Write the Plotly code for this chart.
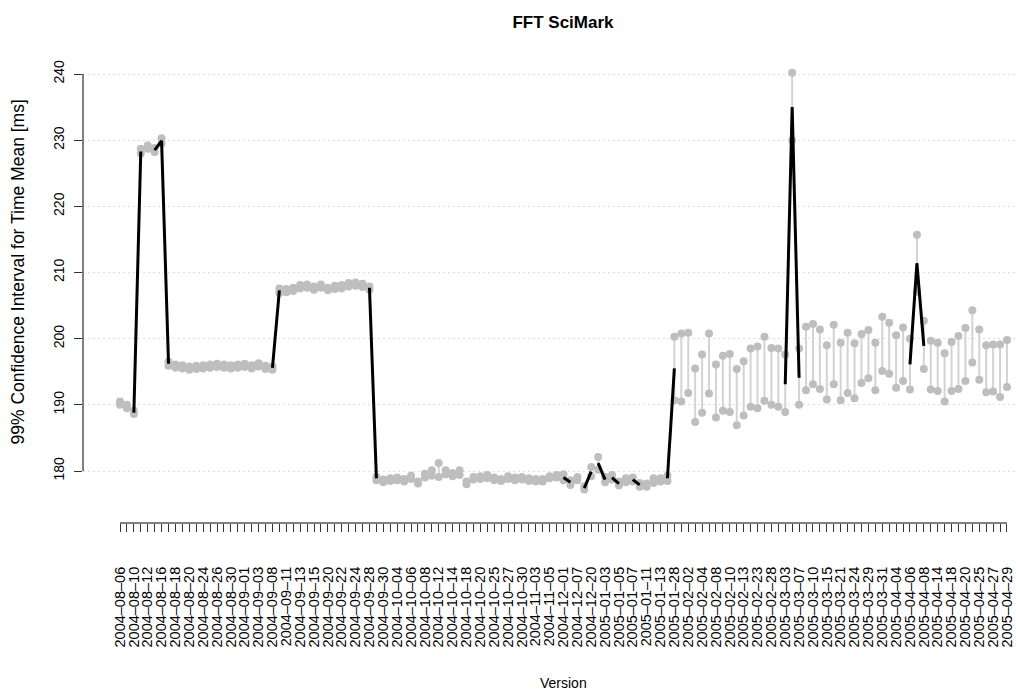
import plotly.graph_objects as go

# Version labels shown under every second tick (one tick per benchmarked version)
shown_labels = [
    "2004-08-06", "2004-08-10", "2004-08-12", "2004-08-16", "2004-08-18", "2004-08-20",
    "2004-08-24", "2004-08-26", "2004-08-30", "2004-09-01", "2004-09-03", "2004-09-08",
    "2004-09-11", "2004-09-13", "2004-09-15", "2004-09-20", "2004-09-22", "2004-09-24",
    "2004-09-28", "2004-09-30", "2004-10-04", "2004-10-06", "2004-10-08", "2004-10-12",
    "2004-10-14", "2004-10-18", "2004-10-20", "2004-10-25", "2004-10-27", "2004-10-30",
    "2004-11-03", "2004-11-05", "2004-12-01", "2004-12-07", "2004-12-20", "2005-01-03",
    "2005-01-05", "2005-01-07", "2005-01-11", "2005-01-13", "2005-01-28", "2005-02-02",
    "2005-02-04", "2005-02-08", "2005-02-10", "2005-02-13", "2005-02-23", "2005-02-28",
    "2005-03-03", "2005-03-07", "2005-03-10", "2005-03-15", "2005-03-21", "2005-03-24",
    "2005-03-29", "2005-03-31", "2005-04-04", "2005-04-06", "2005-04-08", "2005-04-14",
    "2005-04-18", "2005-04-20", "2005-04-25", "2005-04-27", "2005-04-29",
]
n_versions = 129

# 99% confidence interval bounds and mean of the run time per version [ms]
ci_lower = [
    190.0, 189.5, 188.6, 228.0, 228.7, 228.2, 229.5, 195.9, 195.6, 195.5,
    195.3, 195.4, 195.5, 195.6, 195.7, 195.6, 195.5, 195.6, 195.7, 195.5,
    195.8, 195.4, 195.3, 206.9, 207.0, 207.2, 207.6, 207.7, 207.4, 207.7,
    207.3, 207.5, 207.6, 207.9, 208.0, 207.8, 207.4, 178.6, 178.3, 178.5,
    178.6, 178.4, 178.8, 178.1, 179.0, 179.3, 179.1, 179.5, 179.2, 179.4,
    178.0, 178.7, 178.8, 178.9, 178.6, 178.5, 178.8, 178.6, 178.7, 178.5,
    178.4, 178.4, 178.9, 179.0, 178.6, 177.9, 178.6, 177.2, 179.2, 180.2,
    178.3, 178.7, 177.8, 178.3, 178.4, 177.6, 177.6, 178.2, 178.4, 178.5,
    190.7, 190.5, 191.8, 187.4, 188.8, 191.7, 188.1, 189.1, 188.9, 186.9,
    188.4, 189.7, 189.5, 190.6, 190.0, 189.7, 188.9, 230.0, 190.0, 192.2,
    193.1, 192.4, 190.8, 193.1, 190.7, 191.8, 191.0, 193.3, 194.0, 192.2,
    195.1, 194.7, 192.6, 193.6, 192.3, 207.1, 195.4, 192.3, 192.1, 190.5,
    192.1, 192.4, 193.6, 196.4, 193.8, 191.9, 192.0, 191.2, 192.7,
]
ci_upper = [
    190.5, 190.0, 189.1, 228.7, 229.2, 228.8, 230.3, 196.5, 196.1, 196.0,
    195.8, 195.9, 196.0, 196.1, 196.2, 196.1, 196.0, 196.1, 196.2, 196.0,
    196.3, 195.9, 195.8, 207.6, 207.5, 207.7, 208.1, 208.2, 207.9, 208.2,
    207.7, 208.0, 208.1, 208.4, 208.5, 208.3, 207.9, 179.1, 178.7, 178.9,
    179.0, 178.8, 179.3, 178.4, 179.6, 180.1, 181.2, 180.1, 179.7, 180.1,
    178.4, 179.1, 179.2, 179.4, 179.0, 178.8, 179.2, 179.0, 179.1, 178.9,
    178.8, 178.8, 179.2, 179.4, 179.5, 178.6, 179.1, 177.7, 180.6, 182.1,
    179.1, 179.4, 178.4, 178.9, 179.0, 178.2, 178.1, 178.9, 178.9, 179.3,
    200.3, 200.8, 200.9, 195.5, 197.6, 200.8, 196.1, 197.4, 197.7, 195.4,
    196.6, 198.5, 198.8, 200.3, 198.6, 198.5, 197.6, 240.2, 198.5, 201.8,
    202.2, 201.4, 199.0, 202.1, 199.4, 200.9, 199.3, 200.7, 201.3, 199.4,
    203.3, 202.4, 200.5, 201.7, 200.0, 215.7, 202.7, 199.7, 199.4, 197.8,
    199.5, 200.4, 201.6, 204.3, 201.4, 199.0, 199.1, 199.1, 199.8,
]
ci_mean = [
    190.2, 189.8, 188.8, 228.3, 228.9, 228.5, 229.9, 196.2, 195.9, 195.8,
    195.5, 195.7, 195.8, 195.9, 196.0, 195.9, 195.8, 195.9, 196.0, 195.8,
    196.1, 195.7, 195.6, 207.3, 207.3, 207.5, 207.9, 207.9, 207.7, 207.9,
    207.5, 207.8, 207.9, 208.2, 208.3, 208.1, 207.7, 178.9, 178.5, 178.7,
    178.8, 178.6, 179.0, 178.3, 179.3, 179.7, 180.2, 179.8, 179.5, 179.8,
    178.2, 178.9, 179.0, 179.1, 178.8, 178.7, 179.0, 178.8, 178.9, 178.7,
    178.6, 178.6, 179.0, 179.2, 179.0, 178.3, 178.8, 177.4, 179.9, 181.2,
    178.7, 179.0, 178.1, 178.6, 178.7, 177.9, 177.9, 178.5, 178.6, 178.9,
    195.5, 195.6, 196.4, 191.5, 193.2, 196.3, 192.1, 193.3, 193.3, 191.2,
    192.5, 194.1, 194.2, 195.5, 194.3, 194.1, 193.1, 235.0, 194.1, 197.0,
    197.7, 196.9, 194.9, 197.6, 195.1, 196.4, 195.2, 197.0, 197.7, 195.8,
    199.2, 198.6, 196.6, 197.7, 196.1, 211.4, 198.9, 196.0, 195.8, 194.2,
    195.8, 196.4, 197.6, 200.4, 197.6, 195.5, 195.6, 195.2, 196.3,
]

# Versions after which the mean changes significantly (a black segment joins i and i+1)
changes_after = [2, 5, 6, 22, 36, 64, 67, 69, 71, 74, 79, 96, 97, 114, 115]

FONT = "Liberation Sans, Arial, Helvetica, sans-serif"
versions = list(range(n_versions))

# Tick text: every second tick carries a date label
tick_text = []
for i in versions:
    tick_text.append(shown_labels[i // 2].replace("-", "\u2013") if i % 2 == 0 else "")

fig = go.Figure()

# Confidence interval whiskers
wx, wy = [], []
for i in versions:
    wx += [i, i, None]
    wy += [ci_lower[i], ci_upper[i], None]
fig.add_trace(go.Scatter(x=wx, y=wy, mode="lines",
                         line=dict(color="#d3d3d3", width=2),
                         hoverinfo="skip"))

# Interval end points
fig.add_trace(go.Scatter(x=versions + versions, y=ci_lower + ci_upper,
                         mode="markers",
                         marker=dict(color="#bebebe", size=8, line=dict(width=0))))

# Significant changes of the mean, grouped into connected runs
lx, ly = [], []
run = []
for i in changes_after:
    if run and run[-1] == i:
        run.append(i + 1)
    else:
        if run:
            lx += run + [None]
            ly += [ci_mean[k] for k in run] + [None]
        run = [i, i + 1]
if run:
    lx += run
    ly += [ci_mean[k] for k in run]
fig.add_trace(go.Scatter(x=lx, y=ly, mode="lines",
                         line=dict(color="black", width=3)))

y_ticks = [180, 190, 200, 210, 220, 230, 240]

fig.update_layout(
    width=1016, height=691,
    margin=dict(l=83, r=0, t=50, b=168),
    plot_bgcolor="white", paper_bgcolor="white",
    showlegend=False,
    font=dict(family=FONT, color="black"),
    title=dict(text="<b>FFT SciMark</b>", x=563 / 1016, xanchor="center",
               y=1 - 22 / 691, yanchor="middle", yref="container",
               font=dict(size=17, family=FONT, color="black")),
    xaxis=dict(
        range=[-5.34, 129.3], tickmode="array", tickvals=versions, ticktext=tick_text,
        tickangle=-90, ticks="outside", ticklen=8, tickcolor="#333", tickwidth=1,
        showgrid=False, zeroline=False, showline=False,
        tickfont=dict(size=14.5, family=FONT, color="black"),
        ticklabelstandoff=29,
    ),
    yaxis=dict(
        range=[172.14, 243.63], tickmode="array", tickvals=y_ticks,
        ticktext=[str(v) for v in y_ticks], tickangle=-90,
        ticks="outside", ticklen=8, tickcolor="#333", tickwidth=1,
        showgrid=True, gridcolor="#dedede", gridwidth=1, griddash="2px,3px",
        zeroline=False, showline=False,
        tickfont=dict(size=14, family=FONT, color="black"),
        ticklabelstandoff=4,
    ),
    shapes=[
        dict(type="line", xref="x", yref="paper", x0=0, x1=n_versions - 1, y0=0, y1=0,
             line=dict(color="black", width=1)),
        dict(type="line", xref="paper", yref="y", x0=0, x1=0, y0=180, y1=240,
             line=dict(color="black", width=1)),
    ],
    annotations=[
        dict(text="99% Confidence Interval for Time Mean [ms]", textangle=-90,
             xref="paper", yref="y", x=(18 - 83) / 933, y=210,
             xanchor="center", yanchor="middle", showarrow=False,
             font=dict(size=17.5, family=FONT, color="black")),
        dict(text="Version", xref="paper", yref="paper",
             x=(563 - 83) / 933, y=(523 - 683) / 473,
             xanchor="center", yanchor="middle", showarrow=False,
             font=dict(size=14, family=FONT, color="black")),
    ],
)

fig.write_html("out.html")
